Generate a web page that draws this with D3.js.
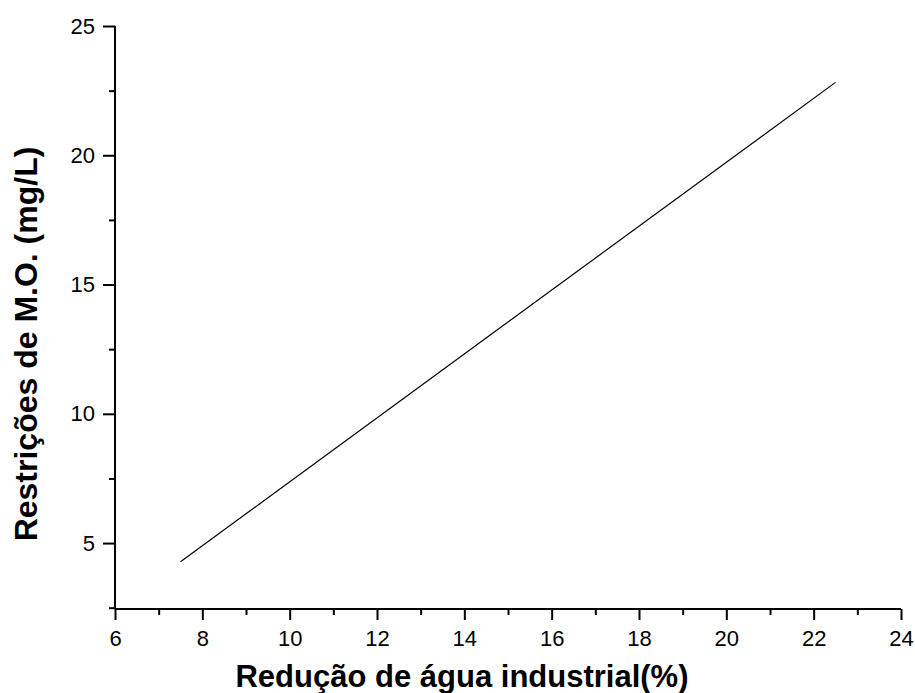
<!DOCTYPE html>
<html>
<head>
<meta charset="utf-8">
<script src="https://cdn.jsdelivr.net/npm/d3@7"></script>
<style>
  body { margin: 0; background: #fff; }
  svg { display: block; font-family: "Liberation Sans", Arial, sans-serif; }
</style>
</head>
<body>
<svg id="chart" width="915" height="693"></svg>
<script>
// Linear relation: industrial water reduction (%) vs organic matter restriction (mg/L)
const reducao = [7.5, 22.5];
const restricoes = [4.28, 22.82];
const xTicks = [6, 8, 10, 12, 14, 16, 18, 20, 22, 24];
const yTicks = [5, 10, 15, 20, 25];
const xTitle = "Redução de água industrial(%)";
const yTitle = "Restrições de M.O. (mg/L)";

const svg = d3.select("#chart");
const margin = { left: 115, right: 14, top: 26, bottom: 84 };
const W = 915, H = 693;

const x = d3.scaleLinear().domain([6, 24]).range([margin.left, W - margin.right]);
const y = d3.scaleLinear().domain([2.45, 25]).range([H - margin.bottom, margin.top]);

// minor ticks halfway between majors
const xMinor = d3.range(7, 24, 2);
const yMinor = d3.range(2.5, 25, 5);

const gx = svg.append("g").attr("transform", `translate(0,${y.range()[0]})`);
gx.call(d3.axisBottom(x).tickValues(xTicks).tickSize(11).tickPadding(10).tickFormat(d3.format("d")));
gx.append("g").call(d3.axisBottom(x).tickValues(xMinor).tickSize(6).tickFormat(""))
  .select(".domain").remove();

const gy = svg.append("g").attr("transform", `translate(${x.range()[0]},0)`);
gy.call(d3.axisLeft(y).tickValues(yTicks).tickSize(12).tickPadding(8).tickFormat(d3.format("d")));
gy.append("g").call(d3.axisLeft(y).tickValues(yMinor).tickSize(6).tickFormat(""))
  .select(".domain").remove();

svg.selectAll(".domain").attr("stroke-width", 2);
svg.selectAll(".tick line").attr("stroke-width", 2);
svg.selectAll(".tick text").attr("font-size", 22).attr("fill", "#000")
  .attr("font-family", "'Liberation Sans', Arial, sans-serif");
gx.selectAll(".domain").attr("d", `M${x.range()[0]},0H${x.range()[1]}`);
gy.selectAll(".domain").attr("d", `M0,${y.range()[0]}V${y.range()[1]}`);

// data line
const pts = reducao.map((d, i) => [d, restricoes[i]]);
svg.append("path")
  .datum(pts)
  .attr("fill", "none")
  .attr("stroke", "#000")
  .attr("stroke-width", 1.2)
  .attr("d", d3.line().x(d => x(d[0])).y(d => y(d[1])));

// axis titles
svg.append("text")
  .attr("x", 462)
  .attr("y", 687)
  .attr("text-anchor", "middle")
  .attr("font-size", 31)
  .attr("font-weight", "bold")
  .text(xTitle);

svg.append("text")
  .attr("transform", "translate(37,344) rotate(-90)")
  .attr("text-anchor", "middle")
  .attr("font-size", 32)
  .attr("font-weight", "bold")
  .text(yTitle);
</script>
</body>
</html>
